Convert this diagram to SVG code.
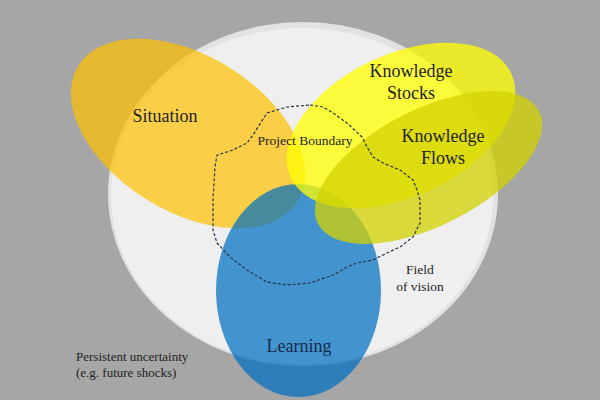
<svg xmlns="http://www.w3.org/2000/svg" width="600" height="400" viewBox="0 0 600 400">
  <style>
    .lbl { font-family: "Liberation Serif", "Times New Roman", serif; fill: #1e1e1e; text-anchor: middle; }
    .big { font-size: 18px; }
    .small { font-size: 13.5px; }
    .note { font-family: "Liberation Serif", "Times New Roman", serif; fill: #1e1e1e; font-size: 13px; }
  </style>
  <rect x="0" y="0" width="600" height="400" fill="#a6a6a6"/>
  <g id="field-of-vision">
    <ellipse cx="303" cy="194" rx="195" ry="172" fill="#e2e2e2"/>
    <ellipse cx="302" cy="196" rx="191" ry="168" fill="#efefef"/>
  </g>
  <g id="situation">
    <ellipse cx="188" cy="133.5" rx="129" ry="78" transform="rotate(31.7 188 133.5)" fill="#ffc000" fill-opacity="0.7"/>
  </g>
  <g id="learning">
    <ellipse cx="298.5" cy="290.5" rx="82.5" ry="106.5" fill="#0070c0" fill-opacity="0.72"/>
  </g>
  <g id="knowledge-stocks">
    <ellipse cx="401" cy="125.5" rx="122" ry="71" transform="rotate(-25.4 401 125.5)" fill="#ffff00" fill-opacity="0.75"/>
  </g>
  <g id="knowledge-flows">
    <ellipse cx="428.5" cy="167.5" rx="124" ry="58" transform="rotate(-27 428.5 167.5)" fill="#d2d200" fill-opacity="0.75"/>
  </g>
  <g id="project-boundary">
    <path d="M310,105 L323,107 L333,113 L347,123 L362,137 L367,147 L373,157 L383,163 L400,170 L413,180 L417,190 L420,200 L420,223 L413,237 L400,247 L387,253 L373,260 L357,263 L347,267 L333,275 L310,283 L287,285 L267,282 L247,270 L230,257 L217,243 L213,230 L213,200 L215,167 L217,155 L233,150 L247,143 L253,135 L258,127 L267,113 L287,107 Z" fill="none" stroke="#2a3448" stroke-width="1.2" stroke-dasharray="3 2" stroke-linejoin="round"/>
    <text class="lbl small" x="305" y="145">Project Boundary</text>
  </g>
  <g id="labels">
    <text class="lbl big" x="165" y="122">Situation</text>
    <text class="lbl big" x="411" y="77">Knowledge</text>
    <text class="lbl big" x="411" y="99">Stocks</text>
    <text class="lbl big" x="443" y="142">Knowledge</text>
    <text class="lbl big" x="443" y="164">Flows</text>
    <text class="lbl big" x="299" y="352" style="fill:#142a4c">Learning</text>
    <text class="lbl small" x="420" y="274">Field</text>
    <text class="lbl small" x="420" y="291">of vision</text>
    <text class="note" x="76" y="361">Persistent uncertainty</text>
    <text class="note" x="76" y="377">(e.g. future shocks)</text>
  </g>
</svg>
